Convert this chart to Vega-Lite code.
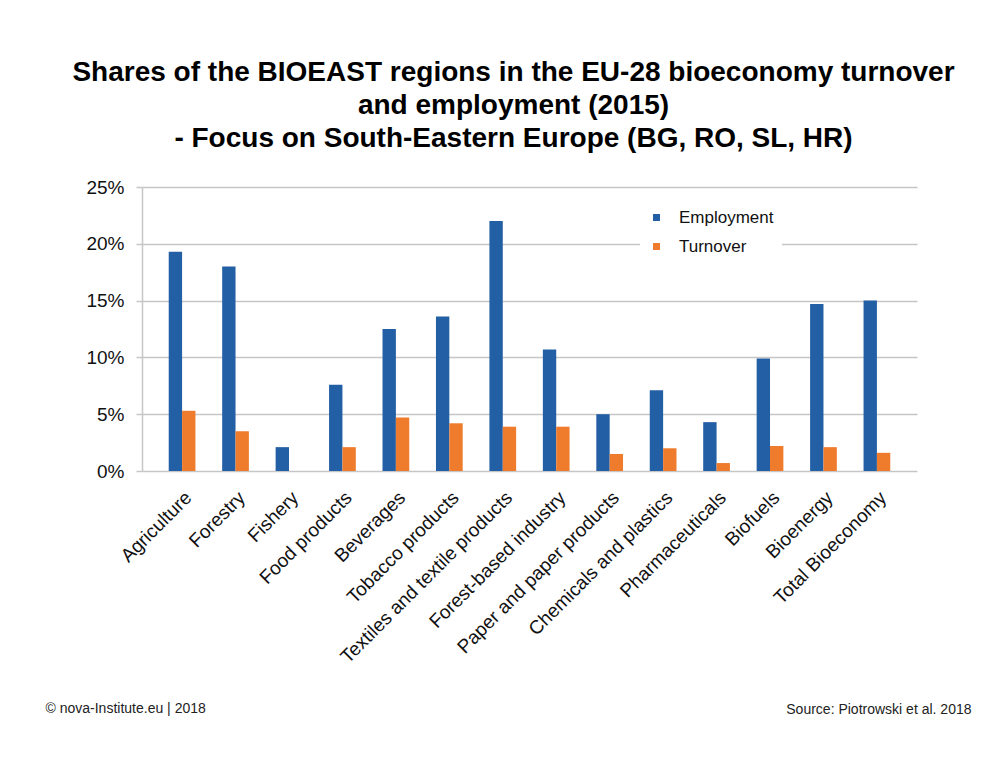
{
  "$schema": "https://vega.github.io/schema/vega-lite/v6.json",
  "width": 775,
  "height": 284,
  "autosize": {"type": "none"},
  "padding": {"left": 142, "top": 187, "right": 90, "bottom": 290},
  "background": "white",
  "config": {"font": "Liberation Sans", "view": {"stroke": null}},
  "title": {
    "text": ["Shares of the BIOEAST regions in the EU-28 bioeconomy turnover", "and employment (2015)", "- Focus on South-Eastern Europe (BG, RO, SL, HR)"],
    "fontSize": 28,
    "fontWeight": "bold",
    "color": "#000000",
    "lineHeight": 33,
    "anchor": "middle",
    "dx": -16,
    "offset": 25
  },
  "data": {
    "values": [
      {"sector": "Agriculture", "measure": "Employment", "value": 0.193},
      {"sector": "Agriculture", "measure": "Turnover", "value": 0.053},
      {"sector": "Forestry", "measure": "Employment", "value": 0.180},
      {"sector": "Forestry", "measure": "Turnover", "value": 0.035},
      {"sector": "Fishery", "measure": "Employment", "value": 0.021},
      {"sector": "Fishery", "measure": "Turnover", "value": 0.0},
      {"sector": "Food products", "measure": "Employment", "value": 0.076},
      {"sector": "Food products", "measure": "Turnover", "value": 0.021},
      {"sector": "Beverages", "measure": "Employment", "value": 0.125},
      {"sector": "Beverages", "measure": "Turnover", "value": 0.047},
      {"sector": "Tobacco products", "measure": "Employment", "value": 0.136},
      {"sector": "Tobacco products", "measure": "Turnover", "value": 0.042},
      {"sector": "Textiles and textile products", "measure": "Employment", "value": 0.220},
      {"sector": "Textiles and textile products", "measure": "Turnover", "value": 0.039},
      {"sector": "Forest-based industry", "measure": "Employment", "value": 0.107},
      {"sector": "Forest-based industry", "measure": "Turnover", "value": 0.039},
      {"sector": "Paper and paper products", "measure": "Employment", "value": 0.050},
      {"sector": "Paper and paper products", "measure": "Turnover", "value": 0.015},
      {"sector": "Chemicals and plastics", "measure": "Employment", "value": 0.071},
      {"sector": "Chemicals and plastics", "measure": "Turnover", "value": 0.020},
      {"sector": "Pharmaceuticals", "measure": "Employment", "value": 0.043},
      {"sector": "Pharmaceuticals", "measure": "Turnover", "value": 0.007},
      {"sector": "Biofuels", "measure": "Employment", "value": 0.099},
      {"sector": "Biofuels", "measure": "Turnover", "value": 0.022},
      {"sector": "Bioenergy", "measure": "Employment", "value": 0.147},
      {"sector": "Bioenergy", "measure": "Turnover", "value": 0.021},
      {"sector": "Total Bioeconomy", "measure": "Employment", "value": 0.150},
      {"sector": "Total Bioeconomy", "measure": "Turnover", "value": 0.016}
    ]
  },
  "mark": {"type": "bar"},
  "encoding": {
    "x": {
      "field": "sector",
      "type": "nominal",
      "sort": null,
      "scale": {"paddingInner": 0.5, "paddingOuter": 0.5},
      "axis": {
        "title": "Source: Piotrowski et al. 2018",
        "titleX": 829,
        "titleY": 238,
        "titleAlign": "right",
        "titleBaseline": "middle",
        "titleFontSize": 14,
        "titleFontWeight": "normal",
        "titleColor": "#222222",
        "labelAngle": -45,
        "labelFontSize": 19,
        "labelLimit": 0,
        "labelColor": "#111111",
        "labelPadding": 17,
        "ticks": false,
        "domain": false,
        "grid": false
      }
    },
    "xOffset": {"field": "measure", "type": "nominal", "sort": ["Employment", "Turnover"]},
    "y": {
      "field": "value",
      "type": "quantitative",
      "scale": {"domain": [0, 0.25], "nice": false},
      "axis": {
        "values": [0, 0.05, 0.1, 0.15, 0.2, 0.25],
        "format": ".0%",
        "title": "© nova-Institute.eu | 2018",
        "titleAngle": 0,
        "titleX": -97,
        "titleY": 521,
        "titleAlign": "left",
        "titleBaseline": "middle",
        "titleFontSize": 14,
        "titleFontWeight": "normal",
        "titleColor": "#222222",
        "labelFontSize": 19,
        "labelColor": "#111111",
        "labelPadding": 12,
        "grid": true,
        "gridColor": "#C6C6C6",
        "gridWidth": 1.5,
        "domain": true,
        "domainColor": "#C6C6C6",
        "domainWidth": 1.5,
        "ticks": true,
        "tickSize": 6,
        "tickColor": "#C6C6C6",
        "tickWidth": 1.5
      }
    },
    "color": {
      "field": "measure",
      "type": "nominal",
      "scale": {"domain": ["Employment", "Turnover"], "range": ["#235FA4", "#EF7B2D"]},
      "legend": {
        "title": null,
        "orient": "none",
        "legendX": 498,
        "legendY": 14,
        "fillColor": "white",
        "padding": 8,
        "symbolType": "square",
        "symbolSize": 49,
        "symbolStrokeWidth": 0,
        "labelFontSize": 17,
        "labelColor": "#111111",
        "labelOffset": 14,
        "rowPadding": 11
      }
    }
  }
}
